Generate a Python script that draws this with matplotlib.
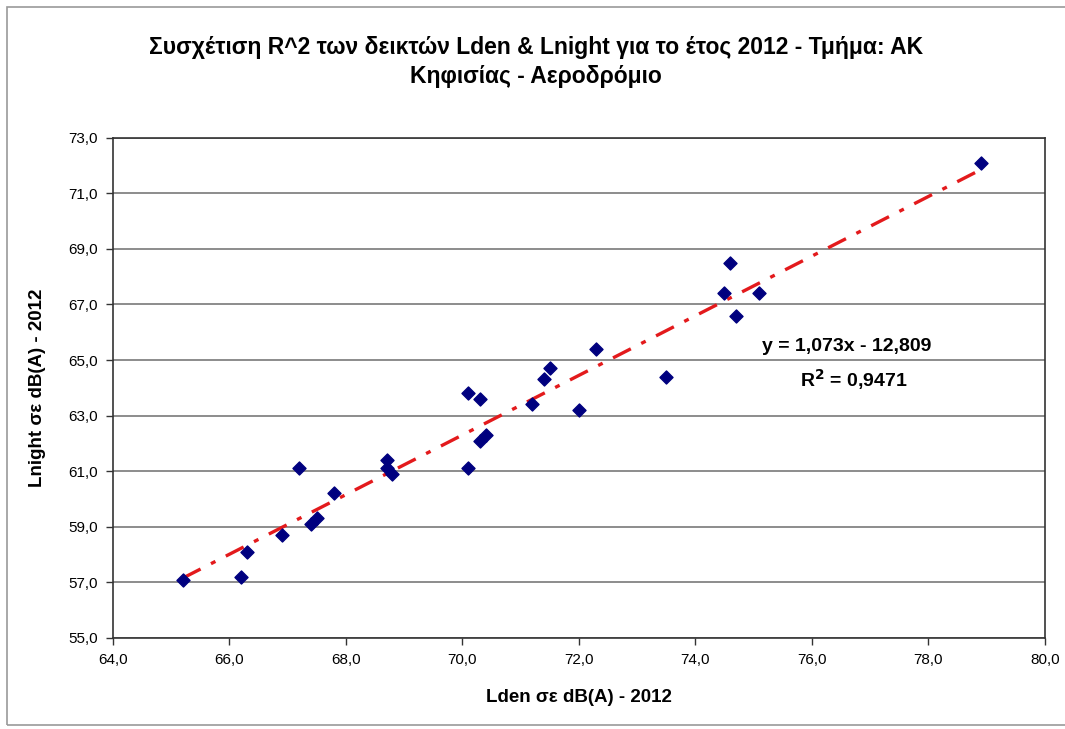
import matplotlib
matplotlib.use("Agg")
import matplotlib.pyplot as plt
from matplotlib.patches import Rectangle

plt.rcParams['font.family'] = ['Liberation Sans', 'DejaVu Sans']

# Lden / Lnight values (dB(A), 2012)
lden = [65.2, 66.2, 66.3, 66.9, 67.2, 67.4, 67.5, 67.8, 68.7, 68.7,
        68.8, 70.1, 70.3, 70.3, 70.4, 70.1, 71.2, 71.4, 72.0, 78.9,
        74.6, 74.5, 75.1, 74.7, 72.3, 71.5, 73.5]
lnight = [57.1, 57.2, 58.1, 58.7, 61.1, 59.1, 59.3, 60.2, 61.4, 61.1,
          60.9, 63.8, 63.6, 62.1, 62.3, 61.1, 63.4, 64.3, 63.2, 72.1,
          68.5, 67.4, 67.4, 66.6, 65.4, 64.7, 64.4]

# trendline coefficients as printed on the chart
slope = 1.073
intercept = -12.809
r2 = 0.9471

x_ticks = [64, 66, 68, 70, 72, 74, 76, 78, 80]
y_ticks = [55, 57, 59, 61, 63, 65, 67, 69, 71, 73]

title = "Συσχέτιση R^2 των δεικτών Lden & Lnight για το έτος 2012 - Τμήμα: AK\nΚηφισίας - Αεροδρόμιο"
xlabel = "Lden σε dB(A) - 2012"
ylabel = "Lnight σε dB(A) - 2012"


def comma(v):
    return ("%.1f" % v).replace(".", ",")


fig = plt.figure(figsize=(10.65, 7.29), dpi=100)
ax = fig.add_axes([0.106, 0.125, 0.875, 0.686])

# outer chart border
fig.patches.append(Rectangle((0.007, 0.005), 1.2, 0.985, transform=fig.transFigure,
                             fill=False, edgecolor='#9a9a9a', linewidth=1.2))

ax.scatter(lden, lnight, marker='D', s=44, color='#00007f', zorder=3)

x0, x1 = min(lden), max(lden)
ax.plot([x0, x1], [slope * x0 + intercept, slope * x1 + intercept],
        color='#e31a1c', linewidth=2.4, dashes=(6, 3.5, 1.5, 3.5), zorder=2)

ax.set_xlim(64, 80)
ax.set_ylim(55, 73)
ax.set_xticks(x_ticks)
ax.set_yticks(y_ticks)
ax.set_xticklabels([comma(v) for v in x_ticks], fontsize=11)
ax.set_yticklabels([comma(v) for v in y_ticks], fontsize=11)
ax.tick_params(direction='out', length=5, width=1, color='#333333', pad=6)

ax.yaxis.grid(True, color='#8c8c8c', linewidth=1.4)
ax.set_axisbelow(True)
for s in ax.spines.values():
    s.set_color('#333333')
    s.set_linewidth(1.2)

ax.set_xlabel(xlabel, fontsize=13.5, fontweight='bold', labelpad=16)
ax.set_ylabel(ylabel, fontsize=13.5, fontweight='bold', labelpad=16)

fig.text(0.503, 0.915, title, ha='center', va='center', fontsize=16.5,
         fontweight='bold', linespacing=1.35)

eq = "y = %sx - %s" % (("%.3f" % slope).replace(".", ","), ("%.3f" % -intercept).replace(".", ","))
ax.text(75.15, 65.5, eq, fontsize=14, fontweight='bold', va='center', ha='left')
ax.text(75.8, 64.3, "R$^\\mathbf{2}$ = " + ("%.4f" % r2).replace(".", ","),
        fontsize=14, fontweight='bold', va='center', ha='left')

fig.savefig("out.png", dpi=100)
